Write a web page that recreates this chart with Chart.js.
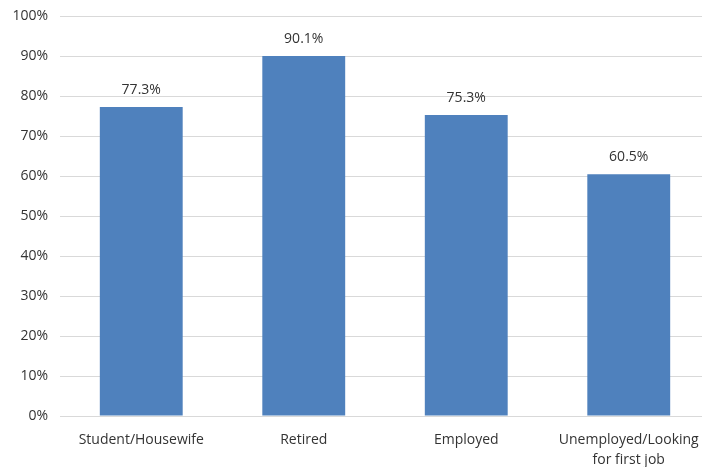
<!DOCTYPE html>
<html>
<head>
<meta charset="utf-8">
<script src="https://cdn.jsdelivr.net/npm/chart.js@4"></script>
<style>
  html, body { margin: 0; padding: 0; background: #fff; overflow: hidden; }
  #wrap { position: relative; width: 712px; height: 471px; margin-top: -4px; }
</style>
</head>
<body>
<div id="wrap"><canvas id="chart"></canvas></div>
<script>
const categories = [['Student/Housewife'], ['Retired'], ['Employed'], ['Unemployed/Looking', 'for first job']];
const shares = [77.3, 90.1, 75.3, 60.5];
const tickStep = 10;

const barLabels = {
    id: 'barLabels',
    afterDatasetsDraw(chart) {
        const ctx = chart.ctx;
        const meta = chart.getDatasetMeta(0);
        ctx.save();
        ctx.font = '14px "Open Sans", sans-serif';
        ctx.fillStyle = '#333333';
        ctx.textAlign = 'center';
        ctx.textBaseline = 'middle';
        meta.data.forEach(function (bar, i) {
            ctx.fillText(shares[i].toFixed(1) + '%', bar.x, bar.y - 17);
        });
        ctx.restore();
    }
};

new Chart(document.getElementById('chart'), {
    type: 'bar',
    data: {
        labels: categories,
        datasets: [{
            data: shares,
            backgroundColor: '#4f81bd',
            barPercentage: 0.51,
            categoryPercentage: 1
        }]
    },
    options: {
        responsive: true,
        maintainAspectRatio: false,
        animation: false,
        layout: { padding: { top: 11, right: 2, left: 0, bottom: 0 } },
        plugins: { legend: { display: false }, tooltip: { enabled: false } },
        scales: {
            x: {
                grid: { display: false },
                border: { color: '#d9d9d9' },
                ticks: { color: '#333333', font: { family: '"Open Sans", sans-serif', size: 14, lineHeight: 1.45 }, padding: 6, maxRotation: 0, autoSkip: false },
                afterFit(scale) { scale.height = 51; }
            },
            y: {
                min: 0,
                max: 100,
                ticks: {
                    stepSize: tickStep,
                    color: '#333333',
                    font: { family: '"Open Sans", sans-serif', size: 14 },
                    padding: 12,
                    callback: function (v) { return v + '%'; }
                },
                grid: { color: '#d9d9d9', drawTicks: false },
                border: { display: false },
                afterFit(scale) { scale.width = 60; }
            }
        }
    },
    plugins: [barLabels]
});
</script>
</body>
</html>
